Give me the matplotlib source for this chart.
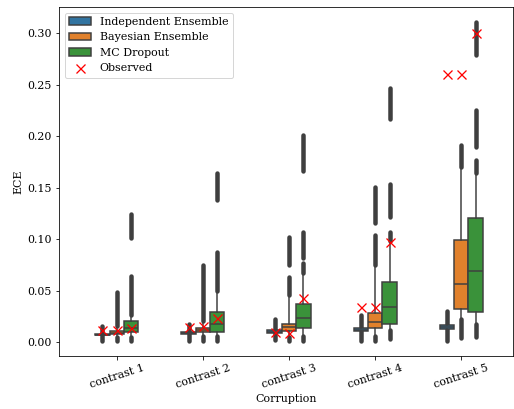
import matplotlib
matplotlib.use("Agg")
import matplotlib.pyplot as plt
from matplotlib.patches import Patch
from matplotlib.lines import Line2D

plt.rcParams["font.family"] = "DejaVu Serif"

categories = ["contrast 1", "contrast 2", "contrast 3", "contrast 4", "contrast 5"]
methods = ["Independent Ensemble", "Bayesian Ensemble", "MC Dropout"]

# box statistics per method, one value per contrast level
ind_q1 = [0.0065, 0.0078, 0.0093, 0.0108, 0.0128]
ind_med = [0.0073, 0.0087, 0.0103, 0.0120, 0.0147]
ind_q3 = [0.0082, 0.0096, 0.0113, 0.0133, 0.0166]
ind_wlo = [0.0045, 0.0055, 0.0065, 0.0075, 0.0090]
ind_whi = [0.0105, 0.0120, 0.0140, 0.0165, 0.0200]
ind_fliers = [[(0.001, 0.016)], [(0.001, 0.0175)], [(0.002, 0.022)],
              [(0.001, 0.0265)], [(0.001, 0.0305)]]

bay_q1 = [0.0075, 0.0103, 0.0110, 0.0136, 0.0320]
bay_med = [0.0092, 0.0120, 0.0145, 0.0200, 0.0566]
bay_q3 = [0.0110, 0.0142, 0.0178, 0.0287, 0.0993]
bay_wlo = [0.0045, 0.0055, 0.0050, 0.0060, 0.0220]
bay_whi = [0.0160, 0.0210, 0.0460, 0.0750, 0.1700]
bay_fliers = [[(0.001, 0.0045), (0.016, 0.049)],
              [(0.001, 0.0055), (0.021, 0.075)],
              [(0.001, 0.005), (0.046, 0.063), (0.075, 0.1025)],
              [(0.001, 0.006), (0.075, 0.104), (0.1155, 0.151)],
              [(0.004, 0.022), (0.170, 0.1915)]]

mc_q1 = [0.0097, 0.0103, 0.0136, 0.0178, 0.0297]
mc_med = [0.0140, 0.0175, 0.0233, 0.0346, 0.0695]
mc_q3 = [0.0207, 0.0297, 0.0369, 0.0588, 0.1204]
mc_wlo = [0.0050, 0.0055, 0.0060, 0.0120, 0.0180]
mc_whi = [0.0260, 0.0500, 0.0670, 0.0980, 0.1640]
mc_fliers = [[(0.001, 0.005), (0.026, 0.064), (0.101, 0.125)],
             [(0.001, 0.0055), (0.050, 0.088), (0.138, 0.164)],
             [(0.001, 0.006), (0.067, 0.077), (0.0815, 0.107), (0.166, 0.201)],
             [(0.003, 0.012), (0.098, 0.107), (0.122, 0.154), (0.217, 0.247)],
             [(0.005, 0.018), (0.164, 0.177), (0.190, 0.2255), (0.279, 0.311)]]

obs_ind = [0.012, 0.015, 0.010, 0.034, 0.261]
obs_bay = [0.012, 0.016, 0.009, 0.034, 0.261]
obs_mc = [0.0136, 0.023, 0.043, 0.0975, 0.300]

colors = ["#3274a1", "#e1812c", "#3a923a"]
gray = "#3f3f3f"

stats = [
    (ind_q1, ind_med, ind_q3, ind_wlo, ind_whi, ind_fliers, obs_ind),
    (bay_q1, bay_med, bay_q3, bay_wlo, bay_whi, bay_fliers, obs_bay),
    (mc_q1, mc_med, mc_q3, mc_wlo, mc_whi, mc_fliers, obs_mc),
]

fig = plt.figure(figsize=(514 / 72, 409 / 72), dpi=72)
ax = fig.add_axes([59 / 514, 1 - 355.5 / 409, 454 / 514, 348.5 / 409])

w = 0.5 / 3
for k, (q1, med, q3, wlo, whi, fl, obs) in enumerate(stats):
    off = (k - 1) * w
    pos = [i + off for i in range(len(categories))]
    bxs = [dict(q1=a, med=b, q3=c, whislo=d, whishi=e, fliers=[])
           for a, b, c, d, e in zip(q1, med, q3, wlo, whi)]
    ax.bxp(bxs, positions=pos, widths=w, patch_artist=True, showfliers=False,
           showcaps=False, manage_ticks=False,
           boxprops=dict(facecolor=colors[k], edgecolor=gray, linewidth=1.5),
           medianprops=dict(color=gray, linewidth=1.5),
           whiskerprops=dict(color=gray, linewidth=1.5),
           zorder=3)
    # dense flier clusters rendered as solid blobs
    for p, segs in zip(pos, fl):
        for lo, hi in segs:
            ax.plot([p, p], [lo, hi], color=gray, lw=4.5,
                    solid_capstyle="round", zorder=2)
    ax.plot(pos, obs, "x", color="red", markersize=9, mew=1.3,
            linestyle="none", zorder=5)

ax.set_xticks(range(len(categories)))
ax.set_xticklabels(categories, rotation=18, fontsize=11)
ax.set_xlim(-0.67, 4.6)
ax.set_ylim(-0.013, 0.3257)
ax.set_yticks([0.0, 0.05, 0.10, 0.15, 0.20, 0.25, 0.30])
ax.set_yticklabels([f"{v:.2f}" for v in ax.get_yticks()], fontsize=11)
ax.set_xlabel("Corruption", fontsize=11)
ax.set_ylabel("ECE", fontsize=11)

handles = [Patch(facecolor=c, edgecolor=gray, linewidth=1.5, label=m)
           for c, m in zip(colors, methods)]
handles.append(Line2D([], [], marker="x", color="red", linestyle="none",
                      markersize=9, mew=1.3, label="Observed"))
ax.legend(handles=handles, loc="upper left", fontsize=11)

fig.savefig("out.png", dpi=72)
